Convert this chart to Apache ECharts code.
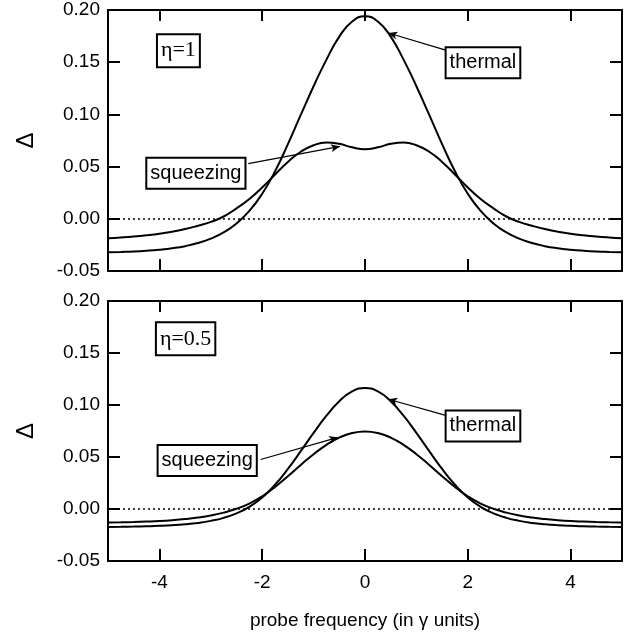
<!DOCTYPE html>
<html>
<head>
<meta charset="utf-8">
<script src="https://cdn.jsdelivr.net/npm/echarts@6/dist/echarts.min.js"></script>
<style>
  html, body { margin: 0; padding: 0; background: #fff; }
  .layer { position: absolute; left: 0; top: 0; width: 636px; height: 635px; }
</style>
</head>
<body>
<div id="frame" class="layer"></div>
<div id="chart" class="layer"></div>
<script>
// Probe frequency grid (in gamma units)
const freq = [-5, -4.75, -4.5, -4.25, -4, -3.75, -3.5, -3.25, -3, -2.75, -2.5, -2.25, -2, -1.75, -1.5, -1.25, -1, -0.75, -0.5, -0.25,
  0, 0.25, 0.5, 0.75, 1, 1.25, 1.5, 1.75, 2, 2.25, 2.5, 2.75, 3, 3.25, 3.5, 3.75, 4, 4.25, 4.5, 4.75, 5];

// eta = 1
const thermalEta1 = [-0.0320, -0.0317, -0.0313, -0.0306, -0.0296, -0.0282, -0.0262, -0.0232, -0.0190, -0.0130, -0.0045, 0.0075, 0.0240, 0.0455, 0.0715, 0.0995, 0.1270, 0.1525, 0.1745, 0.1890,
  0.1940, 0.1890, 0.1745, 0.1525, 0.1270, 0.0995, 0.0715, 0.0455, 0.0240, 0.0075, -0.0045, -0.0130, -0.0190, -0.0232, -0.0262, -0.0282, -0.0296, -0.0306, -0.0313, -0.0317, -0.0320];
const squeezingEta1 = [-0.0186, -0.0179, -0.0170, -0.0158, -0.0143, -0.0123, -0.0098, -0.0066, -0.0030, 0.0022, 0.0100, 0.0190, 0.0300, 0.0425, 0.0545, 0.0642, 0.0705, 0.0731, 0.0718, 0.0685,
  0.0667, 0.0685, 0.0718, 0.0731, 0.0705, 0.0642, 0.0545, 0.0425, 0.0300, 0.0190, 0.0100, 0.0022, -0.0030, -0.0066, -0.0098, -0.0123, -0.0143, -0.0158, -0.0170, -0.0179, -0.0186];

// eta = 0.5
const thermalEta05 = [-0.0172, -0.0171, -0.0169, -0.0166, -0.0162, -0.0156, -0.0147, -0.0134, -0.0114, -0.0085, -0.0042, 0.0020, 0.0110, 0.0233, 0.0385, 0.0556, 0.0732, 0.0897, 0.1036, 0.1130,
  0.1164, 0.1130, 0.1036, 0.0897, 0.0732, 0.0556, 0.0385, 0.0233, 0.0110, 0.0020, -0.0042, -0.0085, -0.0114, -0.0134, -0.0147, -0.0156, -0.0162, -0.0166, -0.0169, -0.0171, -0.0172];
const squeezingEta05 = [-0.0130, -0.0128, -0.0125, -0.0121, -0.0116, -0.0108, -0.0097, -0.0082, -0.0062, -0.0035, 0.0002, 0.0052, 0.0122, 0.0212, 0.0316, 0.0424, 0.0527, 0.0617, 0.0687, 0.0731,
  0.0746, 0.0731, 0.0687, 0.0617, 0.0527, 0.0424, 0.0316, 0.0212, 0.0122, 0.0052, 0.0002, -0.0035, -0.0062, -0.0082, -0.0097, -0.0108, -0.0116, -0.0121, -0.0125, -0.0128, -0.0130];

// Axis ticks
const xTicks = [-4, -2, 0, 2, 4];

// Panel captions and pointer annotations: [label x, label y, arrow start x, start y, arrow end x, end y]
const panelCaptions = ['η=1', 'η=0.5'];
const captionPos = [[-3.63, 0.161], [-3.49, 0.1636]];
const thermalNote = [[2.295, 0.1494, 1.57, 0.1616, 0.455, 0.178], [2.295, 0.0799, 1.57, 0.090, 0.455, 0.1055]];
const squeezingNote = [[-3.29, 0.0436, -2.27, 0.0529, -0.486, 0.0693], [-3.07, 0.0466, -2.03, 0.0476, -0.525, 0.0688]];

const SANS = '"Liberation Sans", Arial, Helvetica, sans-serif';
const SERIF = '"Liberation Serif", "Times New Roman", serif';

const grids = [
  { left: 108, top: 10, width: 514, height: 261 },
  { left: 108, top: 301, width: 514, height: 260 }
];
const X_RANGE = { min: -5, max: 5 };
const Y_RANGE = { min: -0.05, max: 0.20, interval: 0.05 };

const pairs = (ys) => freq.map((x, i) => [x, ys[i]]);

// ---------- boxed frame: axis lines, inward ticks, tick labels ----------
function frameLine() { return { show: true, onZero: false, lineStyle: { color: '#000', width: 2 } }; }
function tick(len, values) {
  const t = { show: true, inside: true, length: len, lineStyle: { color: '#000', width: 2 } };
  if (values) t.customValues = values.slice();
  return t;
}
function frameX(grid, withLabels) {
  return [
    Object.assign({ type: 'value', gridIndex: grid, position: 'bottom' }, X_RANGE, {
      axisLine: frameLine(), axisTick: tick(12, xTicks),
      axisLabel: withLabels
        ? { show: true, customValues: xTicks.slice(), color: '#000', fontFamily: SANS, fontSize: 19, margin: 12 }
        : { show: false },
      splitLine: { show: false }
    }),
    Object.assign({ type: 'value', gridIndex: grid, position: 'top' }, X_RANGE, {
      axisLine: frameLine(), axisTick: tick(11, xTicks),
      axisLabel: { show: false }, splitLine: { show: false }
    })
  ];
}
function frameY(grid) {
  return [
    Object.assign({ type: 'value', gridIndex: grid, position: 'left' }, Y_RANGE, {
      axisLine: frameLine(), axisTick: tick(12),
      axisLabel: { color: '#000', fontFamily: SANS, fontSize: 19, margin: 8, formatter: v => v.toFixed(2) },
      splitLine: { show: false }
    }),
    Object.assign({ type: 'value', gridIndex: grid, position: 'right' }, Y_RANGE, {
      axisLine: frameLine(), axisTick: tick(12),
      axisLabel: { show: false }, splitLine: { show: false }
    })
  ];
}
const frame = echarts.init(document.getElementById('frame'));
frame.setOption({
  animation: false,
  grid: grids.map(g => Object.assign({}, g)),
  xAxis: [...frameX(0, false), ...frameX(1, true)],
  yAxis: [...frameY(0), ...frameY(1)],
  series: []
});

// ---------- curves, annotations and axis titles ----------
const hidden = { axisLine: { show: false }, axisTick: { show: false }, axisLabel: { show: false }, splitLine: { show: false } };
function plotX(grid) {
  const ax = Object.assign({ type: 'value', gridIndex: grid, position: 'bottom' }, X_RANGE, hidden);
  if (grid === 1) {
    Object.assign(ax, {
      name: 'probe frequency (in γ units)', nameLocation: 'middle', nameGap: 50,
      nameTextStyle: { color: '#000', fontFamily: SANS, fontSize: 19 }
    });
  }
  return ax;
}
function plotY(grid) {
  return Object.assign({ type: 'value', gridIndex: grid, position: 'left' }, Y_RANGE, hidden, {
    name: 'Δ', nameLocation: 'middle', nameGap: 70, nameRotate: 90,
    nameTextStyle: { color: '#000', fontFamily: SANS, fontSize: 24 }
  });
}

function boxLabel(text, font, size) {
  return {
    show: true, position: 'inside', formatter: text,
    color: '#000', fontFamily: font, fontSize: size,
    backgroundColor: '#fff', borderColor: '#000', borderWidth: 2,
    padding: [5, 3, 4, 3]
  };
}
function arrow(n) {
  return [
    { coord: [n[2], n[3]], symbol: 'none' },
    { coord: [n[4], n[5]], symbol: 'arrow', symbolSize: [6, 9] }
  ];
}
function curve(ys, grid, withNotes) {
  const s = {
    type: 'line', data: pairs(ys), xAxisIndex: grid, yAxisIndex: grid,
    smooth: 0.5, showSymbol: false, symbol: 'none',
    lineStyle: { color: '#000', width: 2 }, silent: true
  };
  if (withNotes) {
    const t = thermalNote[grid], q = squeezingNote[grid], c = captionPos[grid];
    s.markLine = {
      silent: true, animation: false, label: { show: false },
      data: [
        [{ coord: [-5, 0], symbol: 'none', lineStyle: { type: [2, 3], width: 1.6, color: '#000' } },
         { coord: [5, 0], symbol: 'none' }],
        arrow(t),
        arrow(q)
      ],
      lineStyle: { color: '#000', width: 1.2, type: 'solid' },
      itemStyle: { color: '#000' }
    };
    s.markPoint = {
      silent: true, animation: false,
      symbol: 'rect', symbolSize: 1, itemStyle: { color: 'rgba(0,0,0,0)' },
      data: [
        { coord: [c[0], c[1]], label: boxLabel(panelCaptions[grid], SERIF, 22) },
        { coord: [t[0], t[1]], label: boxLabel('thermal', SANS, 20) },
        { coord: [q[0], q[1]], label: boxLabel('squeezing', SANS, 20) }
      ]
    };
  }
  return s;
}

const chart = echarts.init(document.getElementById('chart'));
chart.setOption({
  animation: false,
  grid: grids.map(g => Object.assign({}, g)),
  xAxis: [plotX(0), plotX(1)],
  yAxis: [plotY(0), plotY(1)],
  series: [
    curve(thermalEta1, 0, true),
    curve(squeezingEta1, 0, false),
    curve(thermalEta05, 1, true),
    curve(squeezingEta05, 1, false)
  ]
});
</script>
</body>
</html>
